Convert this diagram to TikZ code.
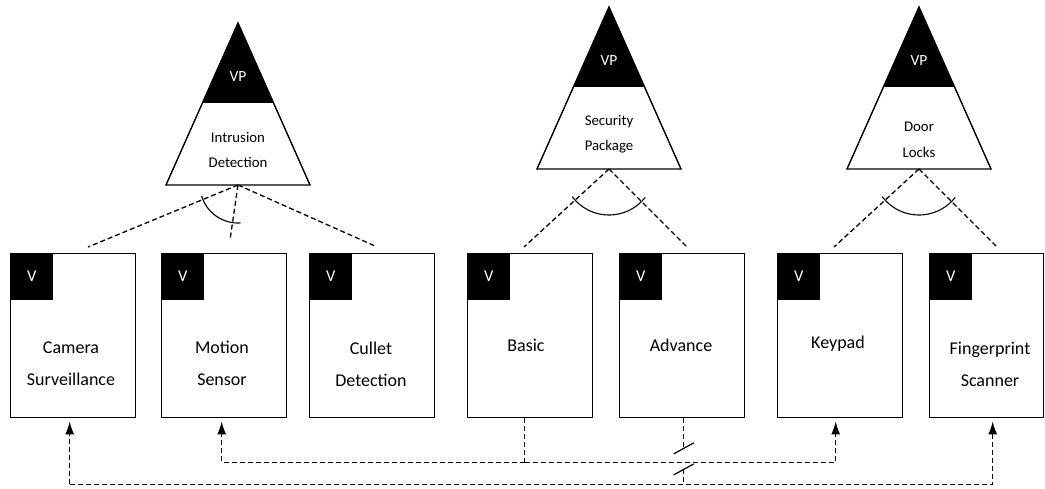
\documentclass[tikz,border=0pt]{standalone}
\usepackage{fontspec}
\setmainfont{Carlito}
\usetikzlibrary{arrows.meta,calc}
\begin{document}
\begin{tikzpicture}[x=1pt,y=-1pt,
  feat/.style={draw, line width=1.4pt, minimum width=125pt, minimum height=164pt,
    inner sep=0pt, anchor=north west},
  vtag/.style={fill=black, text=white, minimum width=43pt, minimum height=47pt,
    inner sep=0pt, anchor=north west, font=\fontsize{16.5}{16.5}\selectfont},
  ftext/.style={align=center, font=\fontsize{18}{32}\selectfont},
  ttext/.style={align=center, font=\fontsize{14.8}{25.5}\selectfont},
  vptext/.style={text=white, font=\fontsize{15.5}{15.5}\selectfont},
  link/.style={dash pattern=on 5pt off 3pt, line width=1.3pt},
  tip/.style={-{Latex[length=13pt,width=9pt]}},
  alt/.style={line width=1.1pt},
]
\useasboundingbox (0,0) rectangle (1045,488);

% variation point triangles: black cap with "VP", white body with the name
\foreach \n/\cx/\ty in {1/238/23, 2/609/7, 3/919/7}{
  \coordinate (t\n-apex) at (\cx,\ty);
  \coordinate (t\n-base) at (\cx,\ty+162);
  \fill (t\n-apex) -- (\cx-35,\ty+79) -- (\cx+35,\ty+79) -- cycle;
  \draw[line width=1.4pt] (t\n-apex) -- (\cx-72,\ty+162) -- (\cx+72,\ty+162) -- cycle;
  \draw[line width=1.1pt] (\cx-35,\ty+79) -- (\cx+35,\ty+79);
  \node[vptext] (vp\n) at (\cx,\ty+54) {VP};
}
\node[ttext] (tl1) at (238,150) {Intrusion\\Detection};
\node[ttext] (tl2) at (609,134) {Security\\Package};
\node[ttext] (tl3) at (919,140) {Door\\Locks};

% variant boxes
\node[feat] (cam) at (10,253) {};
\node[feat] (mot) at (161,253) {};
\node[feat] (cul) at (309,253) {};
\node[feat] (bas) at (467,253) {};
\node[feat] (adv) at (619,253) {};
\node[feat] (key) at (777,253) {};
\node[feat, minimum width=114pt] (fp) at (929,253) {};
\foreach \b in {cam,mot,cul,bas,adv,key,fp}
  \node[vtag] (v-\b) at (\b.north west) {V};

\node[ftext] (cam-l) at (71,364) {Camera\\Surveillance};
\node[ftext] (mot-l) at (222,363) {Motion\\Sensor};
\node[ftext] (cul-l) at (371,364) {Cullet\\Detection};
\node[ftext] (bas-l) at (526,345) {Basic};
\node[ftext] (adv-l) at (681,345) {Advance};
\node[ftext] (key-l) at (838,344) {Keypad};
\node[ftext] (fp-l) at (990,364) {Fingerprint\\Scanner};

% links from the variation points to their variants
\coordinate (e-cam) at (88,247);
\coordinate (e-mot) at (230,240);
\coordinate (e-cul) at (375,246);
\draw[link] (t1-base) -- (e-cam);
\draw[link] (t1-base) -- (e-mot);
\draw[link] (t1-base) -- (e-cul);
\draw[alt] ($(t1-base)+(163:38)$) arc[start angle=163, end angle=86, radius=38];

\coordinate (e-bas) at (524,247);
\coordinate (e-adv) at (687,247);
\draw[link] (t2-base) -- (e-bas);
\draw[link] (t2-base) -- (e-adv);
\draw[alt] ($(t2-base)+(143:46)$) arc[start angle=143, end angle=38, radius=46];

\coordinate (e-key) at (834,247);
\coordinate (e-fp) at (997,247);
\draw[link] (t3-base) -- (e-key);
\draw[link] (t3-base) -- (e-fp);
\draw[alt] ($(t3-base)+(143:46)$) arc[start angle=143, end angle=38, radius=46];

% constraints between variants
\path ([xshift=-3.5pt]cam.south) ++(0,66) coordinate (r1);
\draw[link, tip, shorten >=3pt] (r1) -| ([xshift=6pt]fp.south);
\draw[link, tip, shorten >=3pt] (r1) -- ([xshift=-3.5pt]cam.south);

\draw[link] ([xshift=-5.5pt]bas.south) -- ++(0,44) coordinate (r2);
\draw[link, tip, shorten >=3pt] (r2) -| ([xshift=-2.5pt]mot.south);
\draw[link, tip, shorten >=3pt] (r2) -| ([xshift=-4.5pt]key.south);

\draw[link] ([xshift=1.5pt]adv.south) -- ++(0,30) coordinate (x1);
\coordinate (x2) at ($(x1)+(0,21)$);
\draw[line width=1.2pt] ($(x1)+(-10,5.5)$) -- ($(x1)+(10,-5.5)$);
\draw[line width=1.2pt] ($(x2)+(-10,5.5)$) -- ($(x2)+(10,-5.5)$);
\draw[link] (x2) -- (x2 |- r1);
\end{tikzpicture}
\end{document}
